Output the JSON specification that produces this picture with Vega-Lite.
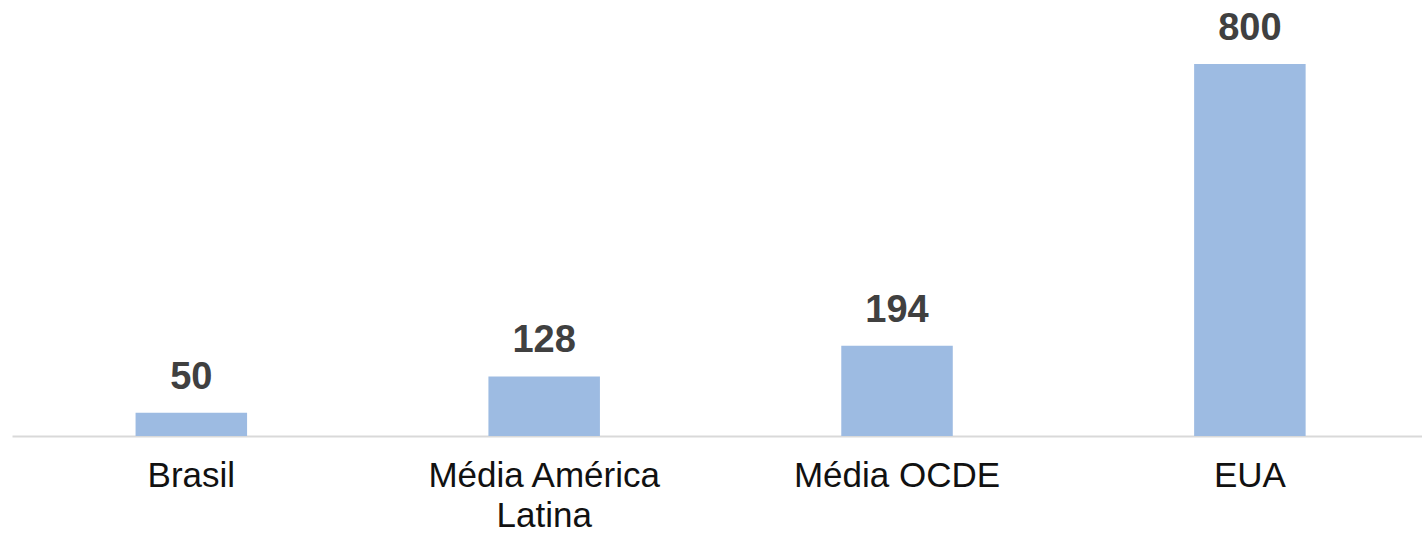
{
  "$schema": "https://vega.github.io/schema/vega-lite/v6.json",
  "autosize": {"type": "none"},
  "padding": {"left": 12, "top": 64, "right": 0, "bottom": 98},
  "width": 1410,
  "height": 372,
  "background": "white",
  "config": {"view": {"stroke": null}, "font": "Liberation Sans"},
  "data": {"values": [
    {"categoria": "Brasil", "valor": 50},
    {"categoria": "Média América Latina", "valor": 128},
    {"categoria": "Média OCDE", "valor": 194},
    {"categoria": "EUA", "valor": 800}
  ]},
  "encoding": {
    "x": {
      "field": "categoria", "type": "nominal", "sort": null,
      "scale": {"paddingInner": 0.684, "paddingOuter": 0.34, "align": 0.515},
      "axis": {
        "title": null, "labelAngle": 0, "ticks": false, "grid": false,
        "domainColor": "#d9d9d9", "domainWidth": 2,
        "labelFont": "Liberation Sans", "labelFontSize": 35, "labelColor": "#111111",
        "labelPadding": 22, "labelLineHeight": 40, "labelLimit": 0,
        "labelExpr": "datum.label == 'Média América Latina' ? ['Média América', 'Latina'] : datum.label"
      }
    },
    "y": {
      "field": "valor", "type": "quantitative",
      "scale": {"domain": [0, 800], "nice": false, "zero": true},
      "axis": null
    }
  },
  "layer": [
    {"mark": {"type": "bar", "color": "#9dbbe2"}},
    {
      "mark": {"type": "text", "baseline": "alphabetic", "dy": -24, "font": "Liberation Sans", "fontWeight": "bold", "fontSize": 38, "color": "#404040"},
      "encoding": {"text": {"field": "valor", "type": "quantitative"}}
    }
  ]
}
